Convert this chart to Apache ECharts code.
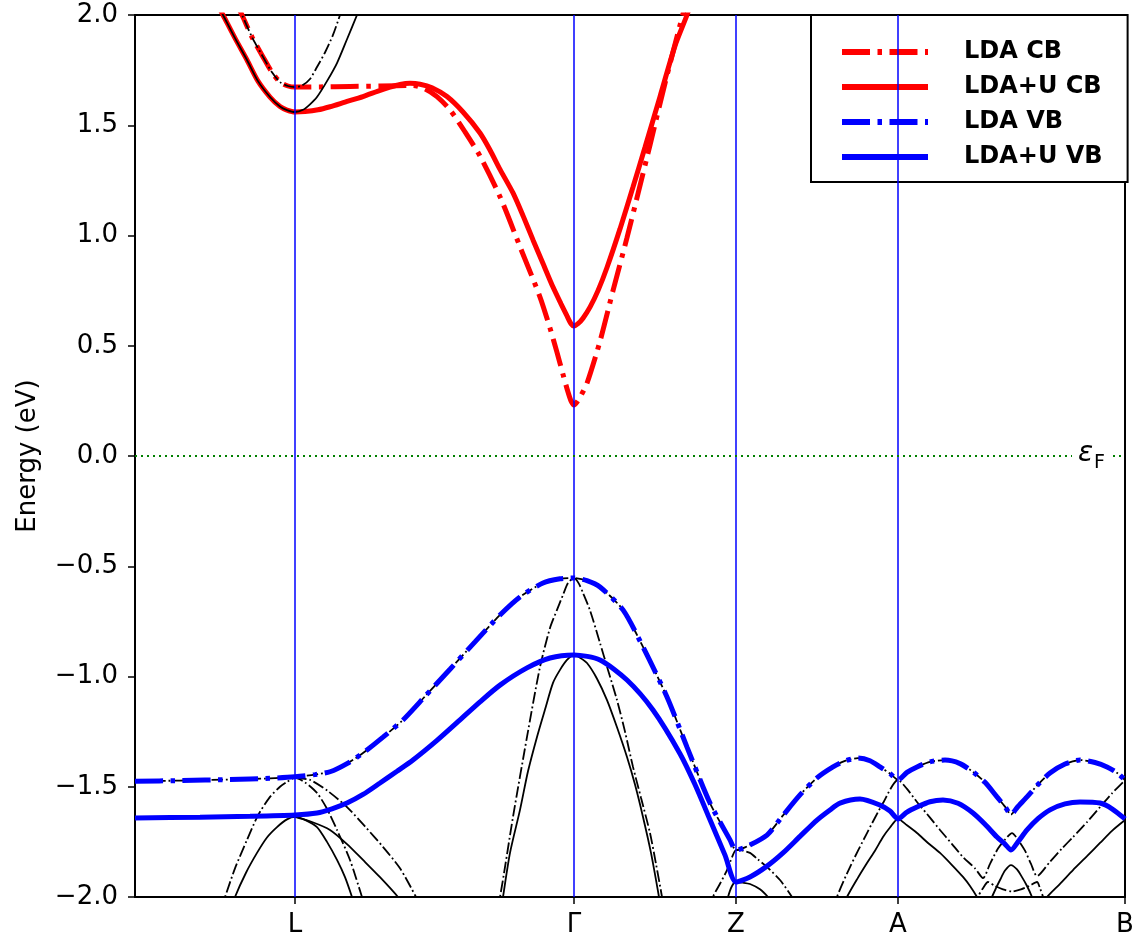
<!DOCTYPE html>
<html><head><meta charset="utf-8">
<script src="https://cdn.jsdelivr.net/npm/echarts@6/dist/echarts.min.js"></script>
<style>html,body{margin:0;padding:0;background:#fff}#c{width:1138px;height:941px}</style>
</head><body><div id="c"></div>
<script>
// k-path positions (arbitrary path-length units) and their labels
const kTicks = [160, 439, 601, 763, 990];
const kLabels = ['L', 'Γ', 'Z', 'A', 'B'];
const kLines = [160, 439, 601, 763];
const yMin = -2, yMax = 2, yStep = 0.5;
const fermiLevel = 0;

// highlighted bands [k, E(eV)]
const ldaCB = [[101,2.054],[107,2.0],[117,1.9],[128,1.81],[137,1.74],[145,1.696],[153,1.678],[160,1.673],[185,1.674],[215,1.676],[245,1.678],[278,1.68],[290,1.665],[302,1.63],[315,1.57],[330,1.47],[345,1.36],[365,1.176],[385,0.949],[405,0.721],[415,0.58],[422,0.47],[428,0.37],[433,0.29],[436,0.25],[439,0.231],[442,0.245],[446,0.275],[452,0.33],[465,0.52],[478,0.75],[492,0.99],[503,1.19],[515,1.41],[530,1.69],[550,2.04],[555,2.12]];
const ldaUCB = [[81,2.06],[88,2.0],[100,1.895],[112,1.796],[123,1.70],[135,1.628],[145,1.585],[152,1.569],[160,1.56],[170,1.562],[183,1.57],[195,1.584],[210,1.605],[228,1.63],[243,1.655],[255,1.673],[265,1.685],[275,1.69],[285,1.686],[297,1.67],[312,1.63],[328,1.56],[345,1.465],[355,1.388],[365,1.30],[378,1.193],[388,1.09],[398,0.98],[408,0.873],[418,0.766],[426,0.69],[432,0.635],[436,0.60],[439,0.59],[443,0.60],[448,0.625],[455,0.675],[463,0.75],[472,0.855],[485,1.03],[498,1.22],[510,1.40],[525,1.63],[540,1.86],[552,2.0],[557,2.07]];
const ldaVB = [[0,-1.475],[45,-1.472],[95,-1.467],[135,-1.462],[160,-1.455],[180,-1.445],[195,-1.432],[212,-1.395],[228,-1.347],[248,-1.275],[268,-1.197],[290,-1.09],[315,-0.967],[340,-0.843],[365,-0.721],[385,-0.639],[408,-0.576],[425,-0.557],[439,-0.553],[452,-0.565],[465,-0.594],[488,-0.698],[508,-0.866],[532,-1.093],[552,-1.32],[575,-1.574],[595,-1.741],[601,-1.787],[610,-1.775],[632,-1.719],[648,-1.63],[665,-1.537],[682,-1.46],[698,-1.41],[710,-1.383],[723,-1.37],[735,-1.382],[745,-1.41],[755,-1.44],[763,-1.469],[772,-1.435],[782,-1.41],[795,-1.387],[810,-1.379],[825,-1.395],[838,-1.433],[850,-1.48],[862,-1.546],[870,-1.59],[876,-1.626],[882,-1.595],[892,-1.546],[903,-1.49],[915,-1.438],[930,-1.397],[945,-1.379],[960,-1.39],[972,-1.41],[983,-1.44],[990,-1.47]];
const ldaUVB = [[0,-1.642],[65,-1.638],[115,-1.634],[160,-1.628],[182,-1.619],[197,-1.60],[212,-1.574],[228,-1.535],[245,-1.483],[262,-1.43],[278,-1.379],[302,-1.29],[325,-1.197],[345,-1.115],[365,-1.039],[392,-0.961],[415,-0.916],[439,-0.902],[465,-0.925],[492,-1.016],[518,-1.152],[545,-1.35],[560,-1.49],[575,-1.65],[590,-1.81],[601,-1.932],[615,-1.909],[632,-1.86],[648,-1.80],[665,-1.725],[682,-1.651],[695,-1.605],[705,-1.574],[725,-1.556],[745,-1.583],[755,-1.61],[763,-1.646],[772,-1.615],[782,-1.592],[795,-1.568],[808,-1.56],[823,-1.575],[838,-1.619],[850,-1.67],[862,-1.728],[870,-1.76],[876,-1.787],[883,-1.75],[892,-1.696],[903,-1.645],[915,-1.605],[930,-1.578],[945,-1.569],[965,-1.574],[977,-1.60],[990,-1.646]];

// other bands (black), dash-dot = LDA, solid = LDA+U
const cbDashL = [[101,2.054],[107,2.0],[117,1.9],[128,1.81],[137,1.74],[145,1.696],[153,1.678],[160,1.673],[167,1.68],[175,1.71],[182,1.764],[190,1.83],[198,1.91],[205,2.0],[210,2.07]];
const cbSolidL = [[81,2.06],[88,2.0],[100,1.895],[112,1.796],[123,1.70],[135,1.628],[145,1.585],[152,1.569],[160,1.56],[168,1.57],[175,1.595],[182,1.628],[192,1.70],[202,1.782],[212,1.89],[222,2.0],[227,2.06]];
const vbDashL1 = [[85,-2.06],[90,-2.0],[100,-1.87],[112,-1.741],[123,-1.63],[135,-1.546],[145,-1.50],[152,-1.478],[160,-1.46],[170,-1.48],[182,-1.528],[192,-1.60],[202,-1.696],[215,-1.832],[227,-2.0],[231,-2.06]];
const vbDashL2 = [[160,-1.46],[175,-1.469],[193,-1.52],[212,-1.592],[230,-1.68],[248,-1.773],[265,-1.87],[281,-2.0],[285,-2.04]];
const vbSolidL1 = [[96,-2.06],[100,-2.0],[111,-1.89],[122,-1.80],[132,-1.73],[142,-1.683],[152,-1.648],[160,-1.637],[170,-1.65],[182,-1.683],[192,-1.75],[202,-1.832],[210,-1.91],[217,-2.0],[221,-2.06]];
const vbSolidL2 = [[160,-1.637],[177,-1.66],[195,-1.696],[212,-1.76],[228,-1.832],[245,-1.91],[263,-2.0],[267,-2.03]];
const vbDashG = [[361,-2.06],[365,-2.0],[378,-1.637],[392,-1.274],[405,-0.957],[415,-0.78],[422,-0.698],[428,-0.63],[433,-0.576],[439,-0.553],[444,-0.58],[448,-0.621],[455,-0.70],[465,-0.848],[473,-0.97],[482,-1.107],[490,-1.25],[498,-1.41],[506,-1.55],[515,-1.71],[521,-1.85],[527,-2.0],[529,-2.06]];
const vbSolidG = [[366,-2.06],[368,-2.0],[375,-1.80],[385,-1.605],[393,-1.43],[402,-1.274],[410,-1.15],[418,-1.029],[425,-0.97],[432,-0.925],[439,-0.902],[445,-0.915],[452,-0.939],[462,-1.01],[472,-1.107],[482,-1.23],[492,-1.365],[500,-1.49],[508,-1.637],[516,-1.80],[524,-2.0],[526,-2.06]];
const vbDashZ = [[576,-2.06],[578,-2.0],[585,-1.94],[592,-1.878],[597,-1.82],[601,-1.787],[608,-1.79],[615,-1.80],[623,-1.83],[632,-1.864],[645,-1.923],[657,-2.0],[660,-2.03]];
const vbSolidZ = [[592,-2.03],[593,-2.0],[597,-1.95],[601,-1.932],[608,-1.935],[615,-1.941],[625,-1.965],[633,-2.0],[636,-2.02]];
const vbDashA = [[700,-2.06],[702,-2.0],[715,-1.864],[732,-1.71],[748,-1.574],[763,-1.469],[772,-1.51],[782,-1.569],[795,-1.64],[805,-1.696],[817,-1.76],[828,-1.819],[840,-1.87],[848,-1.914],[855,-1.85],[863,-1.78],[870,-1.74],[877,-1.71],[883,-1.74],[890,-1.79],[896,-1.85],[902,-1.905],[915,-1.84],[927,-1.78],[938,-1.728],[952,-1.66],[965,-1.592],[977,-1.53],[990,-1.47]];
const vbDashBowl = [[841,-2.05],[843,-2.0],[848,-1.96],[853,-1.932],[860,-1.95],[868,-1.965],[877,-1.975],[886,-1.965],[894,-1.95],[902,-1.932],[905,-1.96],[908,-2.0],[910,-2.04]];
const vbSolidA = [[710,-2.03],[712,-2.0],[722,-1.92],[732,-1.846],[740,-1.79],[748,-1.728],[755,-1.685],[763,-1.646],[772,-1.675],[782,-1.71],[793,-1.755],[805,-1.80],[817,-1.855],[828,-1.909],[835,-1.95],[842,-2.0],[845,-2.03]];
const vbSolidPeak = [[855,-2.03],[857,-2.0],[861,-1.96],[865,-1.923],[870,-1.88],[876,-1.855],[882,-1.875],[887,-1.91],[892,-1.95],[897,-2.0],[899,-2.03]];
const vbSolidB = [[910,-2.02],[912,-2.0],[925,-1.94],[938,-1.878],[952,-1.815],[965,-1.755],[977,-1.70],[990,-1.651]];

const RED = '#ff0000', BLUE = '#0000ff', BLACK = '#000000';
const THICK = 5, THIN = 1.8;
const dashThick = [28, 7.5, 4.5, 7.5];
const dashThin = [11.5, 2.9, 1.8, 2.9];

function band(data, color, width, type, z, name) {
  return {
    type: 'line', name: name, data: data, symbol: 'none', showSymbol: false,
    smooth: 0.25, clip: true, silent: true, animation: false, z: z,
    lineStyle: { color: color, width: width, type: type, cap: 'butt' },
    itemStyle: { color: color }
  };
}

const series = [];
[vbDashL1, vbDashL2, vbDashG, vbDashZ, vbDashA, vbDashBowl, ldaVB].forEach(d => series.push(band(d, BLACK, THIN, dashThin, 2)));
[vbSolidL1, vbSolidL2, vbSolidG, vbSolidZ, vbSolidA, vbSolidPeak, vbSolidB].forEach(d => series.push(band(d, BLACK, THIN, 'solid', 2)));
series.push(band(ldaCB, RED, THICK, dashThick, 2, 'LDA CB'));
series.push(band(ldaUCB, RED, THICK, 'solid', 2, 'LDA+U CB'));
series.push(band(ldaVB, BLUE, THICK, dashThick, 2, 'LDA VB'));
series.push(band(ldaUVB, BLUE, THICK, 'solid', 2, 'LDA+U VB'));
series.push(band(cbDashL, BLACK, THIN, dashThin, 3));
series.push(band(cbSolidL, BLACK, THIN, 'solid', 3));
// high-symmetry lines and Fermi level
series.push({
  type: 'line', name: 'kpath', data: [], symbol: 'none', silent: true, animation: false, z: 4,
  markLine: {
    silent: true, animation: false, symbol: ['none', 'none'], label: { show: false },
    data: kLines.map(k => ({ xAxis: k, lineStyle: { color: BLUE, width: 1.5, type: 'solid' } }))
      .concat([{ yAxis: fermiLevel, lineStyle: { color: '#008000', width: 2, type: [2, 4] } }])
  }
});

const FONT = 'DejaVu Sans';
const fmtY = v => (v < 0 ? '\u2212' : '') + Math.abs(v).toFixed(1);

const option = {
  backgroundColor: '#ffffff',
  animation: false,
  grid: { left: 135, right: 13, top: 15, bottom: 44, containLabel: false, outerBoundsMode: 'none' },
  xAxis: [{
    type: 'value', min: 0, max: 990, position: 'bottom',
    axisLine: { show: true, onZero: false, lineStyle: { color: BLACK, width: 2 } },
    axisTick: { show: true, customValues: kTicks, length: 7, lineStyle: { color: BLACK, width: 1.5 } },
    axisLabel: { show: true, customValues: kTicks, formatter: v => kLabels[kTicks.indexOf(v)], fontFamily: FONT, fontSize: 26, color: BLACK, margin: 15 },
    splitLine: { show: false }
  }, {
    type: 'value', min: 0, max: 990, position: 'top',
    axisLine: { show: true, onZero: false, lineStyle: { color: BLACK, width: 2 } },
    axisTick: { show: false }, axisLabel: { show: false }, splitLine: { show: false }
  }],
  yAxis: [{
    type: 'value', min: yMin, max: yMax, interval: yStep, position: 'left',
    name: 'Energy (eV)', nameLocation: 'middle', nameGap: 94,
    nameTextStyle: { fontFamily: FONT, fontSize: 26, color: BLACK },
    axisLine: { show: true, onZero: false, lineStyle: { color: BLACK, width: 2 } },
    axisTick: { show: true, length: 7, lineStyle: { color: BLACK, width: 1.5 } },
    axisLabel: { formatter: fmtY, fontFamily: FONT, fontSize: 26, color: BLACK, margin: 17 },
    splitLine: { show: false }
  }, {
    type: 'value', min: yMin, max: yMax, position: 'right',
    axisLine: { show: true, onZero: false, lineStyle: { color: BLACK, width: 2 } },
    axisTick: { show: false }, axisLabel: { show: false }, splitLine: { show: false }
  }],
  legend: {
    data: ['LDA CB', 'LDA+U CB', 'LDA VB', 'LDA+U VB'],
    orient: 'vertical', left: 811, top: 15,
    itemWidth: 86, itemHeight: 14, itemGap: 11,
    padding: [25, 25, 13, 28],
    backgroundColor: '#ffffff', borderColor: BLACK, borderWidth: 2, borderRadius: 0,
    selectedMode: false,
    itemStyle: { opacity: 0, borderWidth: 0 },
    lineStyle: { width: 6, type: 'inherit', cap: 'butt' },
    textStyle: { fontFamily: FONT, fontWeight: 'bold', fontSize: 24, color: BLACK, padding: [0, 0, 0, 31] }
  },
  graphic: [
    { type: 'rect', z: 100, shape: { x: 1072, y: 443, width: 40, height: 26 }, style: { fill: '#ffffff' } },
    { type: 'text', z: 101, x: 1078, y: 454, style: { text: 'ε', font: 'italic 28px "DejaVu Sans"', fill: BLACK, verticalAlign: 'middle', align: 'left' } },
    { type: 'text', z: 101, x: 1094, y: 463, style: { text: 'F', font: '19px "DejaVu Sans"', fill: BLACK, verticalAlign: 'middle', align: 'left' } }
  ],
  series: series
};

const chart = echarts.init(document.getElementById('c'), null, { renderer: 'canvas' });
chart.setOption(option);
</script>
</body></html>
